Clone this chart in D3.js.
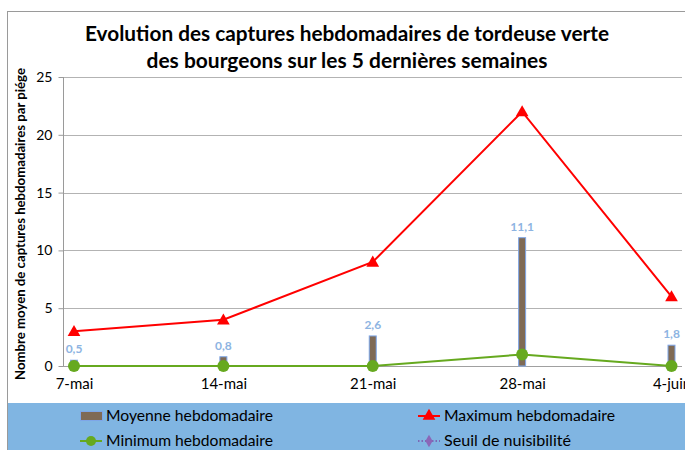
<!doctype html>
<html>
<head>
<meta charset="utf-8">
<title>Tordeuse verte</title>
<script src="https://d3js.org/d3.v7.min.js"></script>
<style>
body { margin:0; background:#fff; }
text { font-family: Lato, 'Open Sans', sans-serif; }
</style>
</head>
<body>
<div id="chart"></div>
<script>
// data
var semaines = ["7-mai", "14-mai", "21-mai", "28-mai", "4-juin"];
var moyenne = [0.5, 0.8, 2.6, 11.1, 1.8];
var maximum = [3, 4, 9, 22, 6];
var minimum = [0, 0, 0, 1, 0];
var yTicks = [0, 5, 10, 15, 20, 25];
var legende = ["Moyenne hebdomadaire", "Maximum hebdomadaire", "Minimum hebdomadaire", "Seuil de nuisibilité"];

var width = 685, height = 450;

var svg = d3.select("#chart").append("svg")
  .attr("width", width).attr("height", height);

// frame
svg.append("rect").attr("x", 7.5).attr("y", 11.5).attr("width", 700).attr("height", 460)
  .attr("fill", "#fff").attr("stroke", "#9a9a9a");

var x = d3.scalePoint().domain(semaines).range([74, 671.5]);
var y = d3.scaleLinear().domain([0, 25]).range([366, 77]);

// title
var title = svg.append("text").attr("text-anchor", "middle")
  .attr("font-weight", "bold").attr("font-size", 20).attr("fill", "#000");
title.append("tspan").attr("x", 347).attr("y", 41).attr("textLength", 524).attr("lengthAdjust", "spacingAndGlyphs")
  .text("Evolution des captures hebdomadaires de tordeuse verte");
title.append("tspan").attr("x", 347).attr("y", 68).attr("textLength", 401).attr("lengthAdjust", "spacingAndGlyphs")
  .text("des bourgeons sur les 5 dernières semaines");

// grid
svg.append("g").selectAll("line").data(yTicks.filter(function(d){ return d > 0; }))
  .enter().append("line")
  .attr("x1", 63).attr("x2", 682)
  .attr("y1", function(d){ return Math.round(y(d)) + 0.5; })
  .attr("y2", function(d){ return Math.round(y(d)) + 0.5; })
  .attr("stroke", "#b3b3b3");

// y axis
var yAxis = d3.axisLeft(y).tickValues(yTicks).tickSize(5).tickPadding(6);
var gy = svg.append("g").attr("transform", "translate(63.5,0)").call(yAxis);
gy.select(".domain").attr("stroke", "#9a9a9a").attr("d", "M0," + y(25) + "V" + y(0));
gy.selectAll(".tick line").attr("stroke", "#9a9a9a");
gy.selectAll(".tick text").attr("font-size", 14).attr("fill", "#000")
  .style("font-family", "Lato, 'Open Sans', sans-serif");

// x axis
var xAxis = d3.axisBottom(x).tickSize(0).tickPadding(12);
var gx = svg.append("g").attr("transform", "translate(0," + (Math.round(y(0)) + 0.5) + ")").call(xAxis);
gx.select(".domain").attr("stroke", "#a0a0a0").attr("d", "M63,0H682");
gx.selectAll(".tick text").attr("font-size", 15).attr("fill", "#000")
  .style("font-family", "Lato, 'Open Sans', sans-serif");

// y title
svg.append("text")
  .attr("transform", "translate(25,224) rotate(-90)")
  .attr("text-anchor", "middle").attr("font-weight", "bold").attr("font-size", 14)
  .attr("textLength", 312).attr("lengthAdjust", "spacingAndGlyphs")
  .text("Nombre moyen de captures hebdomadaires par piége");

// bars
svg.append("g").selectAll("rect").data(moyenne).enter().append("rect")
  .attr("x", function(d, i){ return x(semaines[i]) - 3.5; })
  .attr("y", function(d){ return y(d); })
  .attr("width", 7)
  .attr("height", function(d){ return y(0) - y(d); })
  .attr("fill", "#7f6a55").attr("stroke", "#7ea6e8").attr("stroke-width", 1);

svg.append("g").selectAll("text").data(moyenne).enter().append("text")
  .attr("x", function(d, i){ return x(semaines[i]); })
  .attr("y", function(d){ return y(d) - 7; })
  .attr("text-anchor", "middle").attr("font-weight", "bold").attr("font-size", 12)
  .attr("fill", "#8db4e2")
  .text(function(d){ return d3.format(".1f")(d).replace(".", ","); });

// lines
var line = d3.line().x(function(d, i){ return x(semaines[i]); }).y(function(d){ return y(d); });
svg.append("path").datum(maximum).attr("d", line).attr("fill", "none")
  .attr("stroke", "#ff0000").attr("stroke-width", 2);
svg.append("path").datum(minimum).attr("d", line).attr("fill", "none")
  .attr("stroke", "#66a91f").attr("stroke-width", 2);

var tri = d3.symbol().type(d3.symbolTriangle).size(70);
svg.append("g").selectAll("path").data(maximum).enter().append("path")
  .attr("d", tri)
  .attr("transform", function(d, i){ return "translate(" + x(semaines[i]) + "," + (y(d) + 1) + ")"; })
  .attr("fill", "#ff0000");

svg.append("g").selectAll("circle").data(minimum).enter().append("circle")
  .attr("cx", function(d, i){ return x(semaines[i]); })
  .attr("cy", function(d){ return y(d); })
  .attr("r", 6).attr("fill", "#66a91f");

// legend
svg.append("rect").attr("x", 8).attr("y", 403).attr("width", 677).attr("height", 47)
  .attr("fill", "#80b5e2");

var lg = [
  {x: 80, y: 416, w: 167}, {x: 418, y: 416, w: 171}, {x: 80, y: 441, w: 167}, {x: 418, y: 441, w: 127}
];
legende.forEach(function(t, i){
  var p = lg[i];
  var g = svg.append("g").attr("transform", "translate(" + p.x + "," + p.y + ")");
  if (i == 0) {
    g.append("rect").attr("x", 0.5).attr("y", -4.5).attr("width", 22).attr("height", 9)
      .attr("fill", "#7f6a55").attr("stroke", "#7ea6e8");
  } else if (i == 1) {
    g.append("line").attr("x1", 0).attr("x2", 22).attr("stroke", "#ff0000").attr("stroke-width", 2);
    g.append("path").attr("d", tri).attr("transform", "translate(11,0)").attr("fill", "#ff0000");
  } else if (i == 2) {
    g.append("line").attr("x1", 0).attr("x2", 22).attr("stroke", "#66a91f").attr("stroke-width", 2);
    g.append("circle").attr("cx", 11).attr("r", 5).attr("fill", "#66a91f");
  } else {
    g.append("line").attr("x1", 0).attr("x2", 22).attr("stroke", "#7a4fa8").attr("stroke-width", 1.5)
      .attr("stroke-dasharray", "1.5,2");
    g.append("path").attr("d", d3.symbol().type(d3.symbolDiamond).size(45)).attr("transform", "translate(11,0)")
      .attr("fill", "#8a67b8");
  }
  g.append("text").attr("x", 26).attr("y", 5).attr("font-size", 15).attr("fill", "#000")
    .attr("textLength", p.w).attr("lengthAdjust", "spacingAndGlyphs").text(t);
});
</script>
</body>
</html>
